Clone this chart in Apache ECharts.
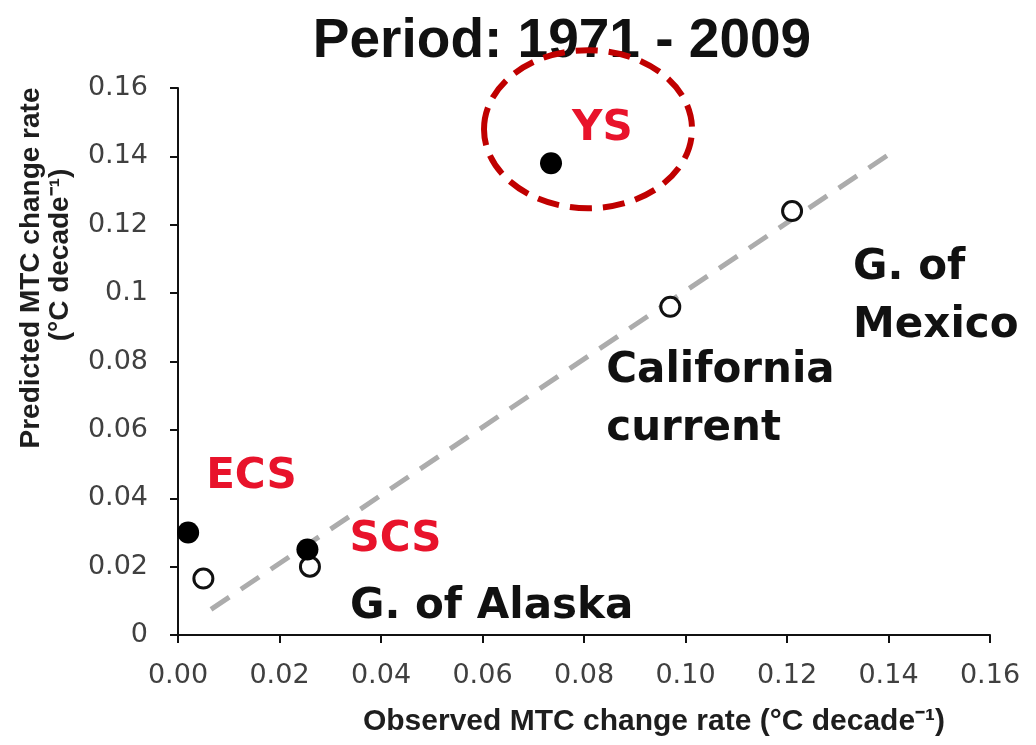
<!DOCTYPE html>
<html>
<head>
<meta charset="utf-8">
<script src="https://cdn.jsdelivr.net/npm/echarts@6/dist/echarts.min.js"></script>
<style>
  html, body { margin: 0; padding: 0; background: #ffffff; }
  #chart { width: 1036px; height: 745px; }
</style>
</head>
<body>
<div id="chart"></div>
<script>
// ---- data ----
const titleText = 'Period: 1971 - 2009';
const xAxisTitle = 'Observed MTC change rate (°C decade⁻¹)';
const yAxisTitle = ['Predicted MTC change rate', '(°C decade⁻¹)'];

const xTickValues = [0, 0.02, 0.04, 0.06, 0.08, 0.10, 0.12, 0.14, 0.16];
const yTickValues = [0, 0.02, 0.04, 0.06, 0.08, 0.10, 0.12, 0.14, 0.16];

// Chinese marginal seas (filled markers)
const seaNames = ['ECS', 'SCS', 'YS'];
const seaObserved = [0.002, 0.0255, 0.0735];
const seaPredicted = [0.030, 0.025, 0.138];

// Other large marine ecosystems (open markers)
const lmeNames = ['', 'G. of Alaska', 'California\ncurrent', 'G. of\nMexico'];
const lmeObserved = [0.005, 0.026, 0.097, 0.121];
const lmePredicted = [0.0165, 0.020, 0.096, 0.124];

// 1:1 reference line end points
const refLineX = [0.0065, 0.14];
const refLineY = [0.0075, 0.1405];

// ---- label placement (pixel offsets from each marker) ----
const labelOffsets = {
  'ECS': [18, -55],
  'SCS': [42, -9],
  'YS': [21, -34],
  'G. of Alaska': [40, 40],
  'California\ncurrent': [-64, 93],
  'G. of\nMexico': [61, 86]
};
const highlightTarget = 'YS';
const highlightOffset = [37, -34];

const chart = echarts.init(document.getElementById('chart'), null, { renderer: 'canvas' });

const tickFmt = v => String(+(+v).toFixed(2));
const axisCommon = {
  type: 'value',
  min: 0,
  max: 0.16,
  interval: 0.02,
  splitLine: { show: false },
  axisLine: { show: true, onZero: false, lineStyle: { color: '#111', width: 2 } },
  axisTick: { show: true, inside: false, length: 8, lineStyle: { color: '#111', width: 2 } }
};

chart.setOption({
  animation: false,
  backgroundColor: '#ffffff',
  title: {
    text: titleText,
    left: 557,
    top: 9,
    textAlign: 'center',
    textStyle: { fontFamily: 'Liberation Sans', fontWeight: 'bold', fontSize: 55, color: '#111' }
  },
  grid: { left: 178, right: 46, top: 88, bottom: 110, containLabel: false },
  xAxis: Object.assign({}, axisCommon, {
    axisLabel: {
      margin: 27,
      formatter: v => (+v).toFixed(2),
      fontFamily: 'DejaVu Sans',
      fontSize: 27,
      color: '#404040',
      customValues: xTickValues
    }
  }),
  yAxis: Object.assign({}, axisCommon, {
    axisLabel: {
      margin: 30,
      formatter: tickFmt,
      fontFamily: 'DejaVu Sans',
      fontSize: 27,
      color: '#404040',
      customValues: yTickValues
    }
  }),
  series: [
    {
      type: 'line',
      data: refLineX.map((x, i) => [x, refLineY[i]]),
      symbol: 'none',
      silent: true,
      z: 1,
      lineStyle: { color: '#acacac', width: 5, type: [22, 14] }
    },
    {
      type: 'scatter',
      name: 'lme',
      z: 3,
      symbol: 'circle',
      symbolSize: 19,
      itemStyle: { color: '#ffffff', borderColor: '#111', borderWidth: 3, opacity: 1 },
      data: lmeObserved.map((x, i) => ({ name: lmeNames[i], value: [x, lmePredicted[i]] }))
    },
    {
      type: 'scatter',
      name: 'sea',
      z: 4,
      symbol: 'circle',
      symbolSize: 22,
      itemStyle: { color: '#000000', opacity: 1 },
      data: seaObserved.map((x, i) => ({ name: seaNames[i], value: [x, seaPredicted[i]] }))
    }
  ]
});

// ---- annotations placed relative to the markers ----
const graphics = [];
const toPx = (x, y) => chart.convertToPixel({ gridIndex: 0 }, [x, y]);

function addLabel(name, x, y, color) {
  const off = labelOffsets[name];
  if (!off) return;
  const p = toPx(x, y);
  graphics.push({
    type: 'text',
    x: p[0] + off[0],
    y: p[1] + off[1],
    z: 10,
    style: {
      text: name,
      fill: color,
      font: 'bold 42px "DejaVu Sans"',
      lineHeight: 58,
      textAlign: 'left',
      textVerticalAlign: 'middle'
    }
  });
}
seaNames.forEach((n, i) => addLabel(n, seaObserved[i], seaPredicted[i], '#e8132b'));
lmeNames.forEach((n, i) => addLabel(n, lmeObserved[i], lmePredicted[i], '#111111'));

// dashed ellipse around the highlighted sea
const hi = seaNames.indexOf(highlightTarget);
const hp = toPx(seaObserved[hi], seaPredicted[hi]);
graphics.push({
  type: 'ellipse',
  z: 9,
  shape: { cx: hp[0] + highlightOffset[0], cy: hp[1] + highlightOffset[1], rx: 104, ry: 79 },
  style: { fill: 'none', stroke: '#c00000', lineWidth: 6, lineDash: [22, 11] }
});

// axis titles
graphics.push({
  type: 'text',
  x: 654, y: 722, z: 10,
  style: {
    text: xAxisTitle, fill: '#1e1e1e',
    font: 'bold 30px "Liberation Sans"',
    textAlign: 'center', textVerticalAlign: 'middle'
  }
});
graphics.push({
  type: 'text',
  x: 31, y: 268, z: 10, rotation: Math.PI / 2,
  style: {
    text: yAxisTitle[0], fill: '#1e1e1e',
    font: 'bold 28px "Liberation Sans"',
    textAlign: 'center', textVerticalAlign: 'middle'
  }
});
graphics.push({
  type: 'text',
  x: 60, y: 255, z: 10, rotation: Math.PI / 2,
  style: {
    text: yAxisTitle[1], fill: '#1e1e1e',
    font: 'bold 28px "Liberation Sans"',
    textAlign: 'center', textVerticalAlign: 'middle'
  }
});

chart.setOption({ graphic: { elements: graphics } });
</script>
</body>
</html>
